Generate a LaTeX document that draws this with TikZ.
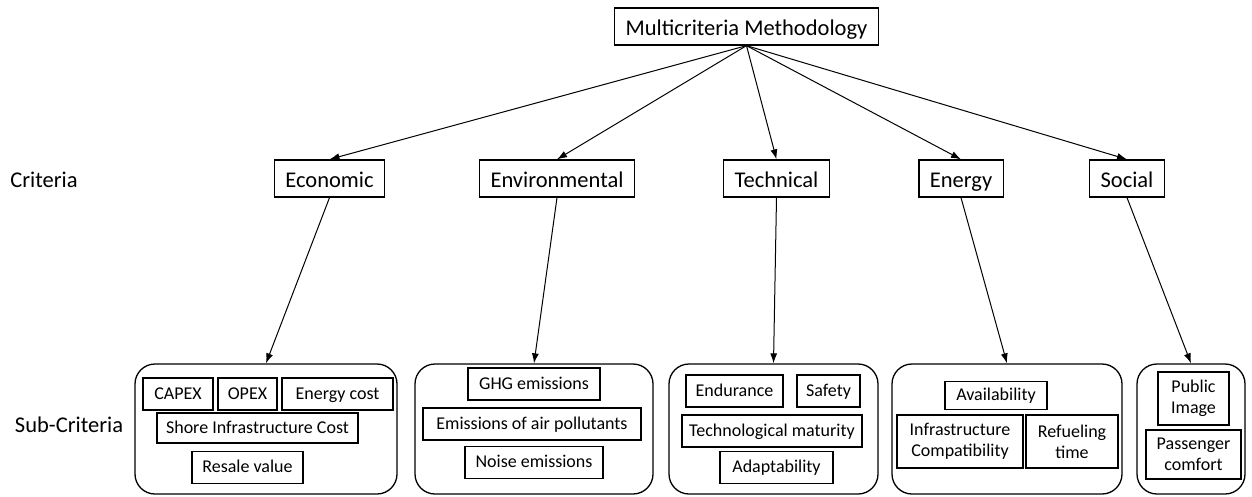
\documentclass[tikz,border=0pt]{standalone}
\usepackage{fontspec}
\setmainfont{Carlito}
\usetikzlibrary{shapes,arrows.meta,positioning}

\begin{document}
\begin{tikzpicture}[
    x=1pt, y=-1pt,
    >={Latex[length=10pt,width=7pt]},
    rowlabel/.style={font=\fontsize{22.5}{27}\selectfont, text height=18pt, text depth=1pt},
    crit/.style={rectangle, draw, line width=1.3pt, font=\fontsize{22.5}{27}\selectfont, inner xsep=11pt, inner ysep=0pt, text height=18pt, text depth=1pt, minimum height=37pt},
    groupbox/.style={rectangle, draw, rounded corners=20pt, line width=1.3pt, minimum height=130pt},
    subtwo/.style={rectangle, draw, line width=1.3pt, font=\fontsize{18}{21}\selectfont, inner sep=0pt, minimum height=32pt, align=center},
    subbox/.style={subtwo, text height=13pt, text depth=3pt},
    link/.style={->, line width=1pt}
]
\useasboundingbox (0,0) rectangle (1252,496);

\node[crit] (method) at (746.5,26.5) {Multicriteria Methodology};

\node[rowlabel] (critlabel) at (44,179) {Criteria};
\node[rowlabel] (sublabel) at (69,424) {Sub-Criteria};

\node[crit] (econ) at (329.5,178.5) {Economic};
\node[crit] (envir) at (557,178.5) {Environmental};
\node[crit] (tech) at (776.5,178.5) {Technical};
\node[crit] (energy) at (961,178.5) {Energy};
\node[crit] (social) at (1127,178.5) {Social};

\node[groupbox, minimum width=262pt] (grpecon) at (266,429) {};
\node[groupbox, minimum width=238pt] (grpenvir) at (534,429) {};
\node[groupbox, minimum width=209pt] (grptech) at (773.5,429) {};
\node[groupbox, minimum width=230pt] (grpenergy) at (1007,429) {};
\node[groupbox, minimum width=108pt] (grpsocial) at (1191,429) {};

% economic
\node[subbox, minimum width=70pt] (capex) at (178,394) {CAPEX};
\node[subbox, minimum width=59pt] (opex) at (247.5,394) {OPEX};
\node[subbox, minimum width=111pt] (encost) at (337.5,394) {Energy cost};
\node[subbox, minimum width=201pt, minimum height=30pt] (shore) at (257.5,428) {Shore Infrastructure Cost};
\node[subbox, minimum width=111pt] (resale) at (247.5,467.5) {Resale value};

% environmental
\node[subbox, minimum width=132pt] (ghg) at (534,384) {GHG emissions};
\node[subbox, minimum width=218pt] (airpol) at (532,424) {Emissions of air pollutants};
\node[subbox, minimum width=138pt] (noise) at (534,462.5) {Noise emissions};

% technical
\node[subbox, minimum width=97pt] (endur) at (734.5,391) {Endurance};
\node[subbox, minimum width=63pt] (safety) at (828.5,391) {Safety};
\node[subbox, minimum width=180pt] (maturity) at (772,431) {Technological maturity};
\node[subbox, minimum width=113pt] (adapt) at (776.5,467.5) {Adaptability};

% energy
\node[subbox, minimum width=102pt, minimum height=28pt] (avail) at (996,395.5) {Availability};
\node[subtwo, minimum width=126pt, minimum height=53pt] (infra) at (960,441.5) {Infrastructure\\Compatibility};
\node[subtwo, minimum width=92pt, minimum height=53pt] (refuel) at (1072,441.5) {Refueling\\time};

% social
\node[subtwo, minimum width=71pt, minimum height=53pt] (image) at (1193.5,398.5) {Public\\Image};
\node[subtwo, minimum width=95pt, minimum height=49pt] (comfort) at (1193.5,454.5) {Passenger\\comfort};

\draw[link] (method.south) -- (econ.north);
\draw[link] (method.south) -- (envir.north);
\draw[link] (method.south) -- (tech.north);
\draw[link] (method.south) -- (energy.north);
\draw[link] (method.south) -- (social.north);

\draw[link] (econ.south) -- (grpecon.north);
\draw[link] (envir.south) -- (grpenvir.north);
\draw[link] (tech.south) -- (grptech.north);
\draw[link] (energy.south) -- (grpenergy.north);
\draw[link] (social.south) -- (grpsocial.north);

\end{tikzpicture}
\end{document}
